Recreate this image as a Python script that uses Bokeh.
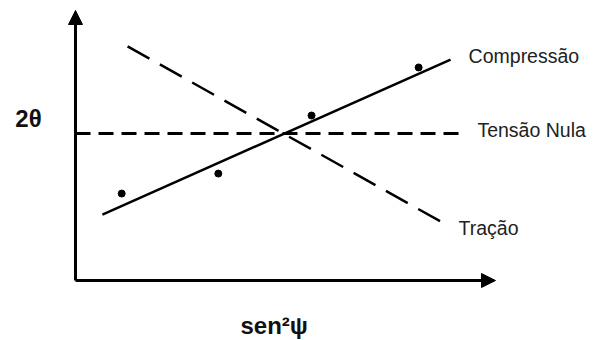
from bokeh.plotting import figure
from bokeh.models import Range1d, Arrow, NormalHead
from bokeh.core.properties import value
from bokeh.embed import file_html
from bokeh.resources import INLINE

# Schematic units: sen²ψ along x (0..1), 2θ along y (0..1)
measured_x = [0.110, 0.340, 0.562, 0.817]
measured_y = [0.322, 0.396, 0.611, 0.789]

compressao_x = [0.064, 0.893]
compressao_y = [0.244, 0.818]

tracao_x = [0.124, 0.886]
tracao_y = [0.867, 0.204]

nula_x = [0.0, 0.921]
nula_y = [0.544, 0.544]

line_labels = ["Compressão", "Tensão Nula", "Tração"]
label_x = [0.936, 0.957, 0.912]
label_y = [0.833, 0.556, 0.196]

p = figure(width=596, height=340, output_backend="svg", toolbar_location=None,
           x_range=Range1d(-0.1786, 1.2405), y_range=Range1d(-0.2222, 1.0370),
           min_border=0, background_fill_color="white", border_fill_color="white")
p.axis.visible = False
p.grid.visible = False
p.outline_line_color = None

# axes with arrow heads
p.add_layout(Arrow(end=NormalHead(size=14, fill_color="black", line_color="black"),
                   x_start=0, y_start=0, x_end=0, y_end=1,
                   line_width=3, line_color="black"))
p.add_layout(Arrow(end=NormalHead(size=14, fill_color="black", line_color="black"),
                   x_start=0, y_start=0, x_end=1, y_end=0,
                   line_width=3, line_color="black"))

p.line(nula_x, nula_y, line_color="black", line_width=3, line_dash="15 8")
p.line(tracao_x, tracao_y, line_color="black", line_width=2.5, line_dash="25 12")
p.line(compressao_x, compressao_y, line_color="black", line_width=2.5)
p.scatter(measured_x, measured_y, size=7, color="black")

p.text(label_x, label_y, text=line_labels, text_font=value("Liberation Sans"),
       text_font_size="19.5px", text_color="#222222", text_baseline="middle",
       text_align="left")

p.text([-0.112], [0.60], text=["2θ"], text_font=value("Liberation Sans"),
       text_font_size="24px", text_font_style="bold", text_color="#111111",
       text_baseline="middle", text_align="center")
p.text([0.473], [-0.1667], text=["sen²ψ"], text_font=value("Liberation Sans"),
       text_font_size="24px", text_font_style="bold", text_color="#111111",
       text_baseline="alphabetic", text_align="center")

open("out.html", "w").write(file_html(p, INLINE))
